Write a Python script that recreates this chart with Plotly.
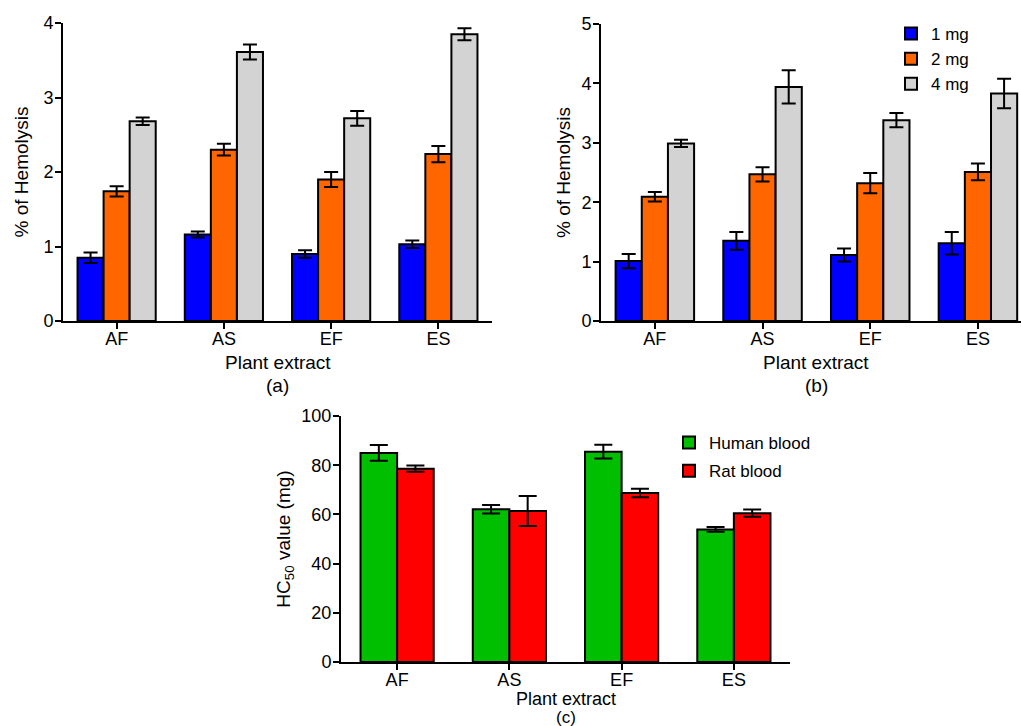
import plotly.graph_objects as go

categories = ["AF", "AS", "EF", "ES"]

# Panel (a): % of Hemolysis
a_1mg = [0.85, 1.16, 0.90, 1.03]
a_1mg_err = [0.07, 0.04, 0.05, 0.05]
a_2mg = [1.74, 2.30, 1.90, 2.24]
a_2mg_err = [0.07, 0.08, 0.10, 0.11]
a_4mg = [2.68, 3.61, 2.72, 3.85]
a_4mg_err = [0.05, 0.10, 0.10, 0.08]

# Panel (b): % of Hemolysis
b_1mg = [1.01, 1.35, 1.11, 1.31]
b_1mg_err = [0.12, 0.15, 0.11, 0.19]
b_2mg = [2.09, 2.47, 2.32, 2.51]
b_2mg_err = [0.08, 0.12, 0.17, 0.14]
b_4mg = [2.99, 3.94, 3.38, 3.83]
b_4mg_err = [0.06, 0.28, 0.12, 0.25]

# Panel (c): HC50 value (mg)
human = [85.0, 62.1, 85.5, 53.9]
human_err = [3.2, 1.7, 2.8, 1.0]
rat = [78.6, 61.4, 68.7, 60.5]
rat_err = [1.3, 6.1, 1.7, 1.5]

dose_names = ["1 mg", "2 mg", "4 mg"]
dose_colors = ["#0000FF", "#FF6600", "#D3D3D3"]
blood_names = ["Human blood", "Rat blood"]
blood_colors = ["#00BF00", "#FF0000"]

FONT = "Liberation Sans, Arial, sans-serif"
W, H = 1021, 726

fig = go.Figure()

idx = list(range(len(categories)))
bw3 = 0.243
offs3 = [-1.5 * bw3, -0.5 * bw3, 0.5 * bw3]


def add_bar(vals, errs, color, name, xa, ya, width, offset, legend, showlegend, cap, group):
    fig.add_trace(go.Bar(
        x=idx, y=vals, name=name, xaxis=xa, yaxis=ya,
        width=width, offset=offset,
        marker=dict(color=color, line=dict(color="black", width=2)),
        error_y=dict(type="data", array=errs, color="black", thickness=2, width=cap),
        legend=legend, showlegend=showlegend, legendgroup=group,
    ))


for vals, errs, c, n, o in zip([a_1mg, a_2mg, a_4mg], [a_1mg_err, a_2mg_err, a_4mg_err],
                               dose_colors, dose_names, offs3):
    add_bar(vals, errs, c, n, "x", "y", bw3, o, "legend", False, 7, "dose")

for vals, errs, c, n, o in zip([b_1mg, b_2mg, b_4mg], [b_1mg_err, b_2mg_err, b_4mg_err],
                               dose_colors, dose_names, offs3):
    add_bar(vals, errs, c, n, "x2", "y2", bw3, o, "legend", True, 7, "dose")

bw2 = 0.326
for vals, errs, c, n, o in zip([human, rat], [human_err, rat_err], blood_colors, blood_names,
                               [-bw2, 0.0]):
    add_bar(vals, errs, c, n, "x3", "y3", bw2, o, "legend2", True, 9, n)


def xaxis(domain, rng, anchor):
    return dict(domain=domain, range=rng, anchor=anchor, tickmode="array", tickvals=idx,
                ticktext=categories, showline=True, linecolor="black", linewidth=2,
                ticks="outside", ticklen=6, tickwidth=2, tickcolor="black",
                ticklabelstandoff=-6,
                showgrid=False, zeroline=False, automargin=False,
                tickfont=dict(family=FONT, size=18, color="black"))


def yaxis(domain, rng, dtick, anchor, title, standoff):
    return dict(domain=domain, range=rng, anchor=anchor, dtick=dtick, showline=True,
                linecolor="black", linewidth=2, ticks="outside", ticklen=6, tickwidth=2,
                tickcolor="black", showgrid=False, zeroline=False, automargin=False,
                ticklabelstandoff=-2,
                tickfont=dict(family=FONT, size=18, color="black"),
                title=dict(text=title, font=dict(family=FONT, size=19, color="black"),
                           standoff=standoff))


fig.update_layout(
    width=W, height=H, autosize=False,
    margin=dict(l=0, r=0, t=0, b=0, pad=0),
    paper_bgcolor="white", plot_bgcolor="white",
    barmode="overlay",
    font=dict(family=FONT, size=18, color="black"),
    xaxis=xaxis([63 / W, 492 / W], [-0.5, 3.5], "y"),
    yaxis=yaxis([1 - 321 / H, 1 - 23 / H], [0, 4], 1, "x", "% of Hemolysis", 10),
    xaxis2=xaxis([601 / W, 1.0], [-0.5, 3.4], "y2"),
    yaxis2=yaxis([1 - 321 / H, 1 - 24 / H], [0, 5], 1, "x2", "% of Hemolysis", 6),
    xaxis3=xaxis([341 / W, 790 / W], [-0.5, 3.5], "y3"),
    yaxis3=yaxis([1 - 662 / H, 1 - 416 / H], [0, 100], 20, "x3",
                 "HC<sub>50</sub> value (mg)", 6),
    legend=dict(x=891 / W, y=1 - 16 / H, xanchor="left", yanchor="top",
                font=dict(family=FONT, size=17, color="black"), bgcolor="rgba(0,0,0,0)",
                tracegroupgap=0),
    legend2=dict(x=669 / W, y=1 - 425 / H, xanchor="left", yanchor="top",
                 font=dict(family=FONT, size=17, color="black"), bgcolor="rgba(0,0,0,0)",
                 tracegroupgap=3),
)

ann = [
    ("Plant extract", (63 + 492) / 2, 362, 19),
    ("(a)", (63 + 492) / 2, 385, 19),
    ("Plant extract", (601 + 1031) / 2, 362, 19),
    ("(b)", (601 + 1031) / 2, 385, 19),
    ("Plant extract", (341 + 790) / 2, 699, 18),
    ("(c)", (341 + 790) / 2, 717, 17),
]
for text, px, py, fs in ann:
    fig.add_annotation(text=text, x=px / W, y=1 - py / H, xref="paper", yref="paper",
                       xanchor="center", yanchor="middle", showarrow=False,
                       font=dict(family=FONT, size=fs, color="black"))

fig.write_html("out.html")
